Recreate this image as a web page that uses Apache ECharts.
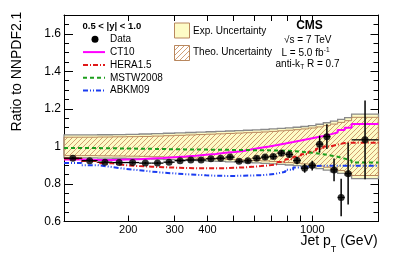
<!DOCTYPE html>
<html><head><meta charset="utf-8">
<script src="https://cdn.jsdelivr.net/npm/echarts@6/dist/echarts.min.js"></script>
<style>html,body{margin:0;padding:0;background:#fff}#c{width:399px;height:255px}</style>
</head><body><div id="c"></div>
<script>
const binEdges = [114,133,153,174,196,220,245,272,300,330,362,395,430,468,507,548,592,638,686,737,790,846,905,967,1032,1101,1172,1248,1327,1410,1784];
const dataRatio = [0.937,0.924,0.916,0.914,0.914,0.911,0.911,0.916,0.924,0.928,0.928,0.934,0.937,0.943,0.921,0.923,0.937,0.943,0.946,0.964,0.957,0.925,0.884,0.898,1.012,1.052,0.875,0.728,0.855,1.035];
const dataErr = [0.006,0.006,0.006,0.006,0.006,0.006,0.006,0.006,0.007,0.007,0.007,0.008,0.008,0.009,0.009,0.010,0.011,0.012,0.013,0.015,0.017,0.020,0.024,0.026,0.045,0.066,0.060,0.100,0.165,0.210];
const ct10 = [0.930,0.928,0.928,0.930,0.932,0.935,0.938,0.942,0.946,0.950,0.955,0.960,0.966,0.970,0.975,0.985,0.993,1.000,1.008,1.016,1.024,1.032,1.040,1.048,1.056,1.064,1.074,1.088,1.100,1.120];
const hera15 = [0.935,0.922,0.910,0.900,0.895,0.892,0.889,0.887,0.885,0.884,0.884,0.884,0.884,0.886,0.888,0.891,0.895,0.899,0.905,0.917,0.932,0.945,0.958,0.972,0.988,1.000,1.010,1.018,1.020,1.020];
const mstw2008 = [0.992,0.991,0.990,0.989,0.988,0.987,0.986,0.985,0.984,0.983,0.983,0.982,0.982,0.981,0.981,0.980,0.980,0.979,0.978,0.977,0.975,0.972,0.968,0.964,0.958,0.952,0.945,0.935,0.925,0.914];
const abkm09 = [0.912,0.900,0.890,0.880,0.873,0.866,0.860,0.856,0.852,0.849,0.846,0.844,0.843,0.843,0.844,0.845,0.847,0.850,0.856,0.865,0.876,0.887,0.893,0.896,0.897,0.897,0.897,0.897,0.897,0.897];
const expUnc = [0.061,0.061,0.062,0.063,0.064,0.066,0.068,0.070,0.072,0.074,0.076,0.078,0.080,0.082,0.084,0.086,0.088,0.090,0.093,0.096,0.099,0.102,0.106,0.111,0.118,0.126,0.135,0.144,0.153,0.172];
const theoUnc = [0.049,0.049,0.050,0.051,0.052,0.053,0.055,0.057,0.059,0.061,0.063,0.065,0.067,0.069,0.071,0.073,0.075,0.077,0.080,0.083,0.086,0.089,0.093,0.098,0.104,0.111,0.119,0.128,0.137,0.155];
const xTickValues = [200,300,400,500,600,700,800,900,1000];
const xLabelValues = [200,300,400,1000];

const FONT = 'Liberation Sans, Arial, Helvetica, sans-serif';
function stepData(vals){ return binEdges.map((e,i)=>[e, vals[Math.min(i, vals.length-1)]]); }

// hatch pattern
const pc = document.createElement('canvas'); pc.width = 5; pc.height = 5;
const g = pc.getContext('2d'); g.strokeStyle = '#cc9468'; g.lineWidth = 0.9;
g.beginPath(); g.moveTo(0,5); g.lineTo(5,0); g.moveTo(-1,1); g.lineTo(1,-1); g.moveTo(4,6); g.lineTo(6,4); g.stroke();
const hatch = {image: pc, repeat: 'repeat'};

const errData = dataRatio.map((v,i)=>[binEdges[i], binEdges[i+1], v, dataErr[i], Math.sqrt(binEdges[i]*binEdges[i+1])]);
const ptData = dataRatio.map((v,i)=>[Math.sqrt(binEdges[i]*binEdges[i+1]), v]);

function lineSeries(name, vals, color, type){
  return {name, type:'line', step:'end', data: stepData(vals), symbol:'none', showSymbol:false,
    lineStyle:{color, width:2, type}, z:3, silent:true, animation:false};
}
function bandSeries(unc, style, z){
  return {type:'custom', data:[[binEdges[0], 1]], encode:{x:0, y:1}, z, silent:true,
    renderItem:function(params, api){
      const top=[], bot=[];
      for (let i=0;i<unc.length;i++){
        top.push(api.coord([binEdges[i], 1+unc[i]])); top.push(api.coord([binEdges[i+1], 1+unc[i]]));
        bot.push(api.coord([binEdges[i], 1-unc[i]])); bot.push(api.coord([binEdges[i+1], 1-unc[i]]));
      }
      return {type:'polygon', shape:{points: top.concat(bot.reverse())}, style};
    }};
}

const xAxisBase = {type:'log', logBase:10, min:114, max:1784,
  axisLine:{show:true, onZero:false, lineStyle:{color:'#000', width:1}},
  axisTick:{show:true, inside:true, length:6, customValues:xTickValues, lineStyle:{color:'#000'}},
  splitLine:{show:false}, minorTick:{show:false}};
const yAxisBase = {type:'value', min:0.6, max:1.7, interval:0.2,
  axisLine:{show:true, onZero:false, lineStyle:{color:'#000', width:1}},
  axisTick:{show:true, inside:true, length:9, lineStyle:{color:'#000'}},
  minorTick:{show:true, splitNumber:4, length:5, lineStyle:{color:'#000'}},
  splitLine:{show:false}, minorSplitLine:{show:false}};

const chart = echarts.init(document.getElementById('c'), null, {renderer:'canvas'});
const legendTxt = (x,y,t)=>({type:'text', x, y, z:100, silent:true, style:{text:t, font:'10px '+FONT, fill:'#000', align:'left', verticalAlign:'middle'}});
const legendLine = (y,color,dash)=>({type:'line', z:100, silent:true, shape:{x1:83,y1:y,x2:105,y2:y}, style:{stroke:color, lineWidth:2, lineDash:dash}});
const txt = (x,y,t,font,align)=>({type:'text', x, y, z:100, silent:true, style:{text:t, font:font+' '+FONT, fill:'#000', align:align||'left', verticalAlign:'middle'}});

chart.setOption({
  animation:false,
  grid:{left:64, top:15, right:20.5, bottom:33.5},
  xAxis:[
    Object.assign({}, xAxisBase, {position:'bottom',
      axisLabel:{customValues:xLabelValues, margin:3, fontSize:11, color:'#000', fontFamily:FONT, formatter:v=>String(Math.round(v))}}),
    Object.assign({}, xAxisBase, {position:'top', axisLabel:{show:false}})
  ],
  yAxis:[
    Object.assign({}, yAxisBase, {position:'left',
      axisLabel:{margin:3, fontSize:12, color:'#000', fontFamily:FONT, showMaxLabel:false,
        formatter:v=>String(+(+v).toFixed(2))}}),
    Object.assign({}, yAxisBase, {position:'right', axisTick:{show:true, inside:true, length:8, lineStyle:{color:'#000'}},
      axisLabel:{show:false}})
  ],
  series:[
    bandSeries(expUnc, {fill:'#fdfbc6', stroke:'#8a8a8a', lineWidth:1.3}, 1),
    bandSeries(theoUnc, {fill:hatch, stroke:'#b8875e', lineWidth:1}, 2),
    lineSeries('CT10', ct10, '#ff00ff', 'solid'),
    lineSeries('HERA1.5', hera15, '#e01818', [5,2,1,2]),
    lineSeries('MSTW2008', mstw2008, '#1d9e1d', [4,3]),
    lineSeries('ABKM09', abkm09, '#1a3cf0', [5,2,1,2,1,2]),
    {type:'custom', data:errData, encode:{x:[0,1,4], y:[2]}, z:4, silent:true,
      renderItem:function(params, api){
        const lo=api.value(0), hi=api.value(1), v=api.value(2), err=api.value(3), c=api.value(4);
        const pL=api.coord([lo,v]), pR=api.coord([hi,v]);
        const pT=api.coord([c,v+err]), pB=api.coord([c,v-err]);
        return {type:'group', children:[
          {type:'line', shape:{x1:pL[0],y1:pL[1],x2:pR[0],y2:pR[1]}, style:{stroke:'#000', lineWidth:1.3}},
          {type:'line', shape:{x1:pT[0],y1:pT[1],x2:pB[0],y2:pB[1]}, style:{stroke:'#000', lineWidth:1.5}}
        ]};
      }},
    {name:'Data', type:'scatter', data:ptData, symbol:'circle', symbolSize:7, itemStyle:{color:'#000'}, z:5, silent:true}
  ],
  graphic:[
    {type:'text', x:17, y:71.5, rotation:Math.PI/2, z:100, silent:true,
      style:{text:'Ratio to NNPDF2.1', font:'14px '+FONT, fill:'#000', align:'center', verticalAlign:'middle'}},
    txt(300.5,241,'Jet p','14px'),
    txt(330.8,250,'T','9px'),
    txt(336.4,241,' (GeV)','14px'),
    txt(82.5,26,'0.5 < |y| < 1.0','bold 9.5px'),
    {type:'circle', z:100, silent:true, shape:{cx:95, cy:39.3, r:3.5}, style:{fill:'#000'}},
    legendTxt(110,39.5,'Data'),
    legendLine(52.1,'#ff00ff',null), legendTxt(110,52.3,'CT10'),
    legendLine(64.9,'#e01818',[5,2,1,2]), legendTxt(110,65,'HERA1.5'),
    legendLine(77.7,'#1d9e1d',[4,3]), legendTxt(110,78,'MSTW2008'),
    legendLine(90.5,'#1a3cf0',[5,2,1,2,1,2]), legendTxt(110,90.7,'ABKM09'),
    {type:'rect', z:100, silent:true, shape:{x:174.5, y:23, width:15, height:15}, style:{fill:'#fdfbc6', stroke:'#b8875e', lineWidth:1}},
    legendTxt(193,31,'Exp. Uncertainty'),
    {type:'rect', z:100, silent:true, shape:{x:174.5, y:45.5, width:15, height:15}, style:{fill:hatch, stroke:'#b8875e', lineWidth:1}},
    legendTxt(193,52.5,'Theo. Uncertainty'),
    txt(309.5,26,'CMS','bold 12px','center'),
    txt(307.8,40.3,'\u221As = 7 TeV','10px','center'),
    txt(323.5,53.5,'L = 5.0 fb','10px','right'),
    txt(323.8,50,'-1','6.5px'),
    txt(300,64,'anti-k','10px','right'),
    txt(300.3,67.3,'T','6.5px'),
    txt(307,64,'R = 0.7','10px','left')
  ]
});
</script></body></html>
